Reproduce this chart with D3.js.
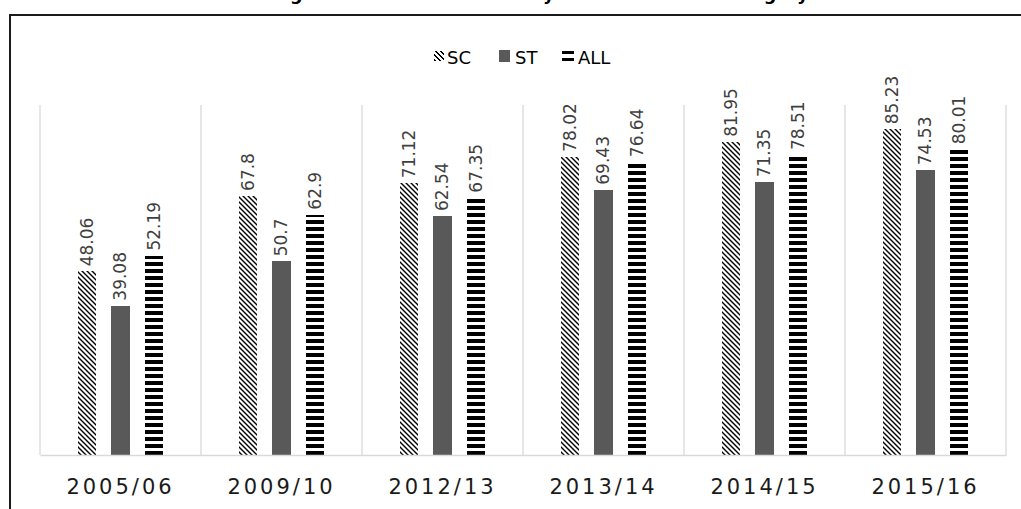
<!DOCTYPE html>
<html>
<head>
<meta charset="utf-8">
<script src="https://cdn.jsdelivr.net/npm/d3@7/dist/d3.min.js"></script>
<style>
  html, body { margin: 0; padding: 0; background: #fff; }
  svg { display: block; }
</style>
</head>
<body>
<svg id="chart" width="1021" height="509"></svg>
<script>
// Years on the x axis
const categories = ["2005/06", "2009/10", "2012/13", "2013/14", "2014/15", "2015/16"];
// Series names and values (percent)
const seriesNames = ["SC", "ST", "ALL"];
const scValues  = [48.06, 67.8, 71.12, 78.02, 81.95, 85.23];
const stValues  = [39.08, 50.7, 62.54, 69.43, 71.35, 74.53];
const allValues = [52.19, 62.9, 67.35, 76.64, 78.51, 80.01];
const titleText = "Percentage of Students Enrolled by Year and Social Category";

const seriesValues = { SC: scValues, ST: stValues, ALL: allValues };
const rows = categories.map((c, i) => ({
  category: c,
  values: seriesNames.map(s => ({ series: s, value: seriesValues[s][i] }))
}));

const svg = d3.select("#chart");
const font = "'DejaVu Sans', sans-serif";

// Fill patterns: downward diagonal hatch for SC, horizontal stripes for ALL
const defs = svg.append("defs");
const hatch = defs.append("pattern")
  .attr("id", "hatch-sc").attr("patternUnits", "userSpaceOnUse")
  .attr("width", 5).attr("height", 5);
hatch.append("rect").attr("width", 5).attr("height", 5).attr("fill", "#fff");
d3.range(5).forEach(k => {
  hatch.append("rect").attr("x", k).attr("y", k).attr("width", 1).attr("height", 1).attr("fill", "#000");
  hatch.append("rect").attr("x", (k + 1) % 5).attr("y", k).attr("width", 1).attr("height", 1).attr("fill", "#000");
});
const stripes = defs.append("pattern")
  .attr("id", "stripes-all").attr("patternUnits", "userSpaceOnUse")
  .attr("width", 8).attr("height", 7);
stripes.append("rect").attr("width", 8).attr("height", 7).attr("fill", "#fff");
stripes.append("rect").attr("y", 3).attr("width", 8).attr("height", 4).attr("fill", "#000");

const fills = { SC: "url(#hatch-sc)", ST: "#595959", ALL: "url(#stripes-all)" };

// Title (sits above the frame)
svg.append("text")
  .attr("x", 505).attr("y", 0)
  .attr("text-anchor", "middle")
  .attr("font-family", font).attr("font-weight", "bold").attr("font-size", 17.6)
  .attr("fill", "#000")
  .text(titleText);

// Frame
svg.append("path")
  .attr("d", "M10,509 V15 H1021")
  .attr("fill", "none").attr("stroke", "#1a1a1a").attr("stroke-width", 2);

// Scales
const plot = { left: 40, right: 1006, top: 105, bottom: 455 };
const x0 = d3.scaleBand().domain(categories).range([plot.left, plot.right]).padding(0);
const x1 = d3.scaleBand().domain(seriesNames).range([-42.85, 42.85]).paddingInner(0.45).paddingOuter(0);
const y = d3.scaleLinear().domain([0, 91.6]).range([plot.bottom, plot.top]);

// Category separators
const boundaries = categories.map(c => x0(c)).concat([plot.right]);
svg.append("g").selectAll("line").data(boundaries).join("line")
  .attr("x1", d => d).attr("x2", d => d)
  .attr("y1", plot.top).attr("y2", plot.bottom)
  .attr("stroke", "#d9d9d9").attr("stroke-width", 1.3);

// Bars
const groups = svg.append("g").selectAll("g").data(rows).join("g")
  .attr("transform", d => `translate(${x0(d.category) + x0.bandwidth() / 2},0)`);

groups.selectAll("rect").data(d => d.values).join("rect")
  .attr("x", d => x1(d.series))
  .attr("y", d => y(d.value))
  .attr("width", x1.bandwidth())
  .attr("height", d => y(0) - y(d.value))
  .attr("fill", d => fills[d.series])
  .attr("shape-rendering", "crispEdges");

// Value labels, rotated
groups.selectAll("text").data(d => d.values).join("text")
  .attr("transform", d => `translate(${x1(d.series) + x1.bandwidth() / 2},${y(d.value) - 5}) rotate(-90)`)
  .attr("dy", "0.35em")
  .attr("text-anchor", "start")
  .attr("font-family", font).attr("font-size", 17)
  .attr("fill", "#404040")
  .text(d => String(d.value));

// X axis
const xAxis = svg.append("g")
  .attr("transform", `translate(0,${plot.bottom})`)
  .call(d3.axisBottom(x0).tickSize(0).tickPadding(24));
xAxis.select(".domain").attr("stroke", "#d9d9d9").attr("stroke-width", 1.5);
xAxis.selectAll("text")
  .attr("font-family", font).attr("font-size", 21)
  .attr("letter-spacing", "3px")
  .attr("fill", "#1a1a1a");

// Legend
const legendItems = [
  { name: "SC", x: 434 },
  { name: "ST", x: 499 },
  { name: "ALL", x: 562 }
];
const legend = svg.append("g");
const li = legend.selectAll("g").data(legendItems).join("g")
  .attr("transform", d => `translate(${d.x},0)`);
li.each(function(d) {
  const g = d3.select(this);
  if (d.name === "SC") {
    g.append("rect").attr("x", 0).attr("y", 51).attr("width", 10).attr("height", 10)
      .attr("fill", fills.SC).attr("shape-rendering", "crispEdges");
  } else if (d.name === "ST") {
    g.append("rect").attr("x", 0).attr("y", 50).attr("width", 11).attr("height", 12)
      .attr("fill", fills.ST);
  } else {
    g.append("rect").attr("x", 0).attr("y", 51).attr("width", 12).attr("height", 3).attr("fill", "#000");
    g.append("rect").attr("x", 0).attr("y", 58).attr("width", 12).attr("height", 3).attr("fill", "#000");
  }
  g.append("text")
    .attr("x", d.name === "SC" ? 13 : 16)
    .attr("y", 63.5)
    .attr("font-family", font).attr("font-size", 18)
    .attr("fill", "#000")
    .text(d.name);
});
</script>
</body>
</html>
